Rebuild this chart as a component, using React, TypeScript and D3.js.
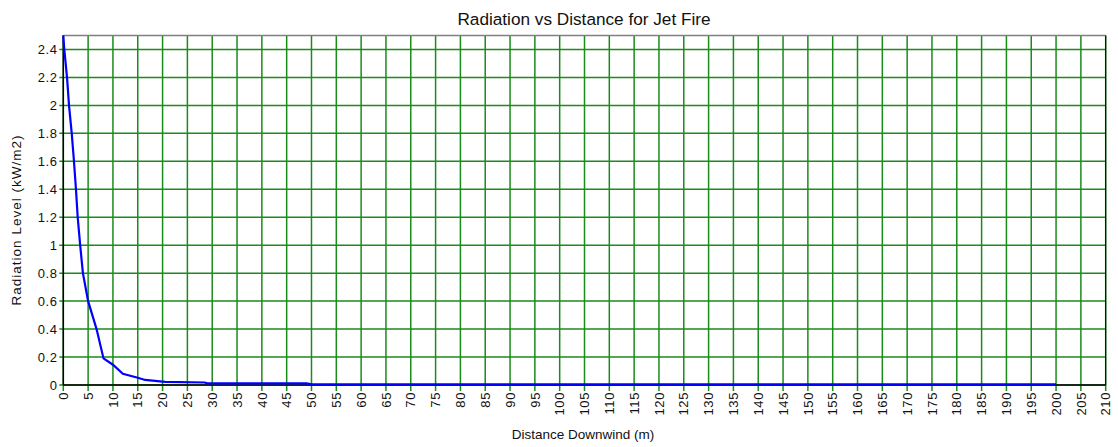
import React from "react";
import * as d3 from "d3";

const distances = [0, 0.2, 0.75, 1.15, 1.7, 2.15, 2.55, 2.9, 3.4, 3.95, 5.0, 6.7, 8.1, 10, 12, 15, 16.5, 20.5, 28.5, 29, 49, 50, 200];
const radiation = [2.5, 2.4, 2.2, 2.0, 1.8, 1.6, 1.4, 1.2, 1.0, 0.8, 0.6, 0.4, 0.19, 0.145, 0.08, 0.052, 0.036, 0.022, 0.018, 0.012, 0.011, 0.005, 0.004];
const xTicks = d3.range(0, 211, 5);
const yTicks = [0, 0.2, 0.4, 0.6, 0.8, 1, 1.2, 1.4, 1.6, 1.8, 2, 2.2, 2.4];
const title = "Radiation vs Distance for Jet Fire";
const xTitle = "Distance Downwind (m)";
const yTitle = "Radiation Level (kW/m2)";

const W = 1118;
const H = 447;
const left = 63.3;
const right = 1105.7;
const top = 35.5;
const bottom = 385;

export default function App() {
  const x = d3.scaleLinear().domain([0, 210]).range([left, right]);
  const y = d3.scaleLinear().domain([0, 2.5]).range([bottom, top]);
  const pts: [number, number][] = distances.map((d, i) => [d, radiation[i]]);
  const line = d3
    .line<[number, number]>()
    .x((d) => x(d[0]))
    .y((d) => y(d[1]));
  const font = "'Liberation Sans', Arial, sans-serif";
  const grid = "#1a8c1a";
  return (
    <svg
      width={W}
      height={H}
      style={{ position: "absolute", left: 0, top: 0, background: "#fff" }}
      fontFamily={font}
    >
      <rect x={0} y={0} width={W} height={H} fill="#fff" />
      <text x={584} y={25} fontSize={17.2} textAnchor="middle" fill="#111">
        {title}
      </text>
      {/* grid */}
      {xTicks.map((t) => (
        <line key={"gx" + t} x1={x(t)} x2={x(t)} y1={top} y2={bottom + 6} stroke={grid} strokeWidth={1.5} />
      ))}
      {yTicks.map((t) => (
        <line key={"gy" + t} x1={left - 4} x2={right} y1={y(t)} y2={y(t)} stroke={grid} strokeWidth={1.5} />
      ))}
      {/* frame */}
      <line x1={left} x2={right} y1={top} y2={top} stroke="#808080" strokeWidth={1.5} />
      <line x1={right} x2={right} y1={top} y2={bottom} stroke="#000" strokeWidth={1} />
      <line x1={left} x2={left} y1={top} y2={bottom} stroke="#000" strokeWidth={1.5} />
      <line x1={left} x2={right} y1={bottom} y2={bottom} stroke="#000" strokeWidth={1.5} />
      {/* data */}
      <path d={line(pts) || ""} fill="none" stroke="#0000ff" strokeWidth={2.2} />
      {/* y labels */}
      {yTicks.map((t) => (
        <text key={"ly" + t} x={57.5} y={y(t)} dy="0.36em" fontSize={13} letterSpacing={0.6} textAnchor="end" fill="#111">
          {String(t)}
        </text>
      ))}
      {/* x labels */}
      {xTicks.map((t) => (
        <text
          key={"lx" + t}
          transform={`translate(${x(t)},392) rotate(-90)`}
          dy="0.36em"
          fontSize={13}
          letterSpacing={0.6}
          textAnchor="end"
          fill="#111"
        >
          {String(t)}
        </text>
      ))}
      <text x={583} y={439} fontSize={13.5} textAnchor="middle" fill="#111">
        {xTitle}
      </text>
      <text
        transform={`translate(20.5,220) rotate(-90)`}
        fontSize={13.5}
        letterSpacing={1}
        textAnchor="middle"
        fill="#111"
      >
        {yTitle}
      </text>
    </svg>
  );
}
